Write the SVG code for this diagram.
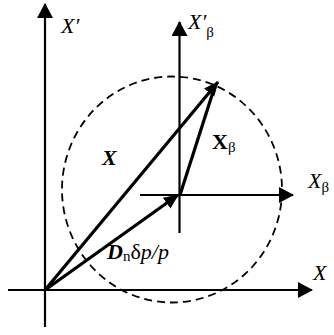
<svg xmlns="http://www.w3.org/2000/svg" width="334" height="335" viewBox="0 0 334 335">
<style>
.ax{stroke:#000;stroke-width:2.2;fill:none}
.vec{stroke:#000;stroke-width:3.2;fill:none}
.circ{stroke:#000;stroke-width:1.8;fill:none;stroke-dasharray:8 5}
.t{font-family:"Liberation Serif","Times New Roman",serif;font-size:22px;fill:#000}
.it{font-style:italic}
.b{font-weight:bold}
.sub{font-size:15px;font-style:normal;font-weight:normal}
</style>
<defs>
<marker id="ah" markerUnits="userSpaceOnUse" markerWidth="16" markerHeight="16" viewBox="0 0 16 16" refX="14" refY="8" orient="auto">
<path d="M0,0 L15,8 L0,16 Z" fill="#000"/>
</marker>
<marker id="vh" markerUnits="userSpaceOnUse" markerWidth="16" markerHeight="16" viewBox="0 0 16 16" refX="14" refY="8" orient="auto">
<path d="M0,1.5 L15,8 L0,14.5 Z" fill="#000"/>
</marker>
</defs>
<g id="circle"><ellipse class="circ" cx="172" cy="189.5" rx="110" ry="113"/></g>
<g id="axes">
<line class="ax" x1="45" y1="327" x2="45" y2="4" marker-end="url(#ah)"/>
<line class="ax" x1="8" y1="290" x2="312" y2="290" marker-end="url(#ah)"/>
<line class="ax" x1="179.5" y1="233" x2="179.5" y2="22" marker-end="url(#ah)"/>
<line class="ax" x1="140" y1="195" x2="293" y2="195" marker-end="url(#ah)"/>
</g>
<g id="connectors">
<line class="vec" x1="45" y1="290" x2="218" y2="82" marker-end="url(#vh)"/>
<line class="vec" x1="45" y1="290" x2="178" y2="195" marker-end="url(#vh)"/>
<line class="vec" x1="180" y1="195" x2="213" y2="92"/>
</g>
<g id="labels">
<text class="t it" x="61" y="33">X′</text>
<text class="t it" x="188" y="29">X′<tspan class="sub" dy="8">β</tspan></text>
<text class="t it b" x="102" y="165">X</text>
<text class="t b" x="212" y="149">X<tspan class="sub" dy="3">β</tspan></text>
<text class="t it" x="308" y="188">X<tspan class="sub" dy="4">β</tspan></text>
<text class="t it b" x="107" y="259">D<tspan class="sub" dy="2">n</tspan><tspan dy="-2" font-style="normal" font-weight="normal">δ</tspan><tspan font-weight="normal">p/p</tspan></text>
<text class="t it" x="313" y="280">X</text>
</g>
</svg>
